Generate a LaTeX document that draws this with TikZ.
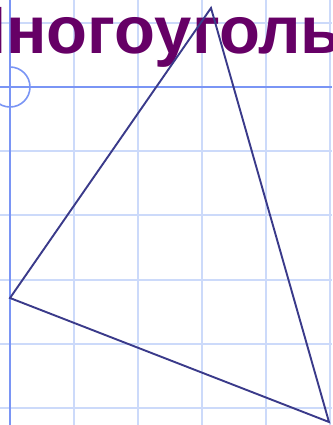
\documentclass[tikz,border=0pt]{standalone}
\usepackage{fontspec}
\setmainfont{Liberation Sans}
\usepackage{tikz}
\usetikzlibrary{positioning}
\definecolor{gridblue}{HTML}{CCDAFA}
\definecolor{axisblue}{HTML}{7A95F5}
\definecolor{edgeblue}{HTML}{3A3A8A}
\definecolor{titlepurple}{HTML}{660066}
\tikzset{
    grid line/.style = {draw=gridblue, line width=2pt},
    axis line/.style = {draw=axisblue, line width=2pt},
    triangle edge/.style = {draw=edgeblue, line width=1.9pt, line join=miter},
}

\begin{document}
\begin{tikzpicture}[x=1pt, y=-1pt]
                \useasboundingbox (0, 0) rectangle (332, 425);
                \clip (0, 0) rectangle (332, 425);
                \fill[white] (0, 0) rectangle (332, 425);

                \foreach \gx in {74, 138, 202, 266, 330}
                    \draw[grid line] (\gx, 0) -- (\gx, 425);
                \foreach \gy in {22.8, 151.2, 215.4, 279.6, 343.8, 408}
                    \draw[grid line] (0, \gy) -- (332, \gy);

                \draw[axis line] (0, 87) -- (332, 87);
                \draw[axis line] (10, 0) -- (10, 425);
                \draw[axis line, line width=1.6pt] (-10, 87) arc[start angle=180, end angle=-90, radius=20];

                \node[anchor=base west, inner sep=0pt, text=titlepurple,
                      font=\fontsize{67}{67}\selectfont\bfseries] (title) at (-49.7, 54) {Многоугольники};

                \coordinate (apex) at (211, 8);
                \coordinate (left) at (10, 298);
                \coordinate (right) at (329, 422);
                \draw[triangle edge] (left) -- (apex) -- (right) -- cycle;
            \end{tikzpicture}
\end{document}
